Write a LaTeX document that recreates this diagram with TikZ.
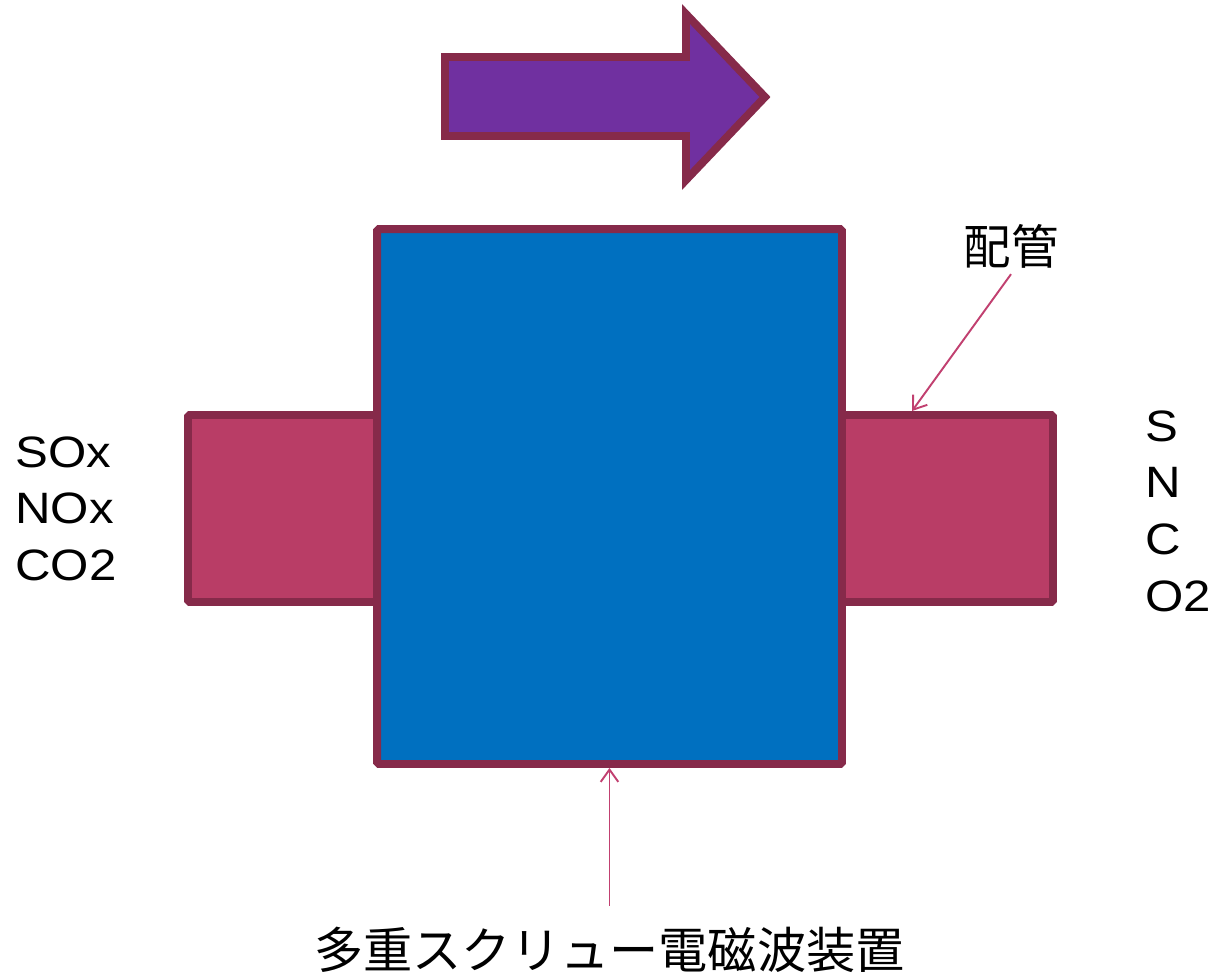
\documentclass[tikz,border=0pt]{standalone}
\usepackage{fontspec}
\setmainfont{Liberation Sans}
\newfontfamily\gasfont[FakeStretch=1.12]{Liberation Sans}
\newfontfamily\jpfont{Noto Sans CJK JP}
\usetikzlibrary{arrows.meta, positioning}
\definecolor{rimcol}{RGB}{134,42,74}
\definecolor{tankcol}{RGB}{0,112,192}
\definecolor{pipecol}{RGB}{185,61,102}
\definecolor{flowcol}{RGB}{112,48,160}
\definecolor{leadcol}{RGB}{193,64,112}

\begin{document}
\begin{tikzpicture}
[
						x=0.02cm, y=-0.02cm,
						rim/.style = {draw=rimcol, line width=4.5pt, rounded corners=1pt},
						tank/.style = {rim, fill=tankcol, minimum width=9.3cm, minimum height=10.7cm},
						pipe/.style = {rim, fill=pipecol, minimum height=3.74cm},
						lead/.style = {draw=leadcol, line width=1.1pt, -{Straight Barb[length=7pt, width=10pt]}},
						gas/.style = {font=\gasfont\fontsize{25}{32.3}\selectfont, align=left, inner sep=0pt},
						jlabel/.style = {font=\jpfont\fontsize{27}{30}\selectfont}
					]
\useasboundingbox (0,0) rectangle (1214,975);
\draw[rim, fill=flowcol, rounded corners=0pt] (445,57) -- (686,57) -- (686,14) -- (765,97) -- (686,180) -- (686,136) -- (445,136) -- cycle;
\node[pipe, minimum width=3.78cm] (inpipe) at (282.5,508.5) {};
\node[pipe, minimum width=4.22cm] (outpipe) at (947.5,508.5) {};
\node[tank] (reactor) at (609.5,496.5) {};
\node[gas, anchor=north west] (ingas) at (15,436) {SOx\\NOx\\CO2};
\node[gas, anchor=north west] (outgas) at (1145,410) {S\\N\\C\\O2};
\node[jlabel] (pipename) at (1011,246) {配管};
\coordinate (pipehit) at (912,411);
\draw[lead] (pipename.south) -- (pipehit);
\node[jlabel, font=\jpfont\fontsize{28}{30}\selectfont, inner ysep=12pt] (device) at (609.5,950) {多重スクリュー電磁波装置};
\draw[lead] (device.north) -- (reactor.south);
\end{tikzpicture}
\end{document}
